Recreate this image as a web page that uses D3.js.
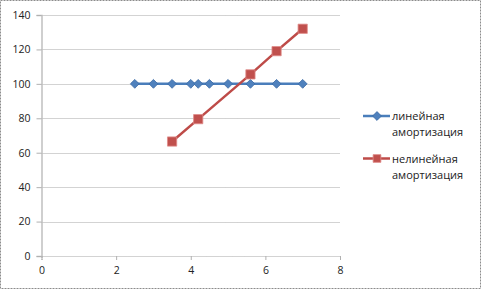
<!DOCTYPE html>
<html>
<head>
<meta charset="utf-8">
<script src="https://cdn.jsdelivr.net/npm/d3@7"></script>
<style>
  body { margin: 0; background: #fff; }
  text { font-family: "Open Sans", "Liberation Sans", sans-serif; fill: #222; }
</style>
</head>
<body>
<div class="chart"></div>
<script>
// values
var linearX = [2.5, 3, 3.5, 4, 4.2, 4.5, 5, 5.6, 6.3, 7];
var linearY = [100, 100, 100, 100, 100, 100, 100, 100, 100, 100];
var nonlinearX = [3.5, 4.2, 5.6, 6.3, 7];
var nonlinearY = [66.5, 79.5, 105.5, 119, 132];
var xTicks = [0, 2, 4, 6, 8];
var yTicks = [0, 20, 40, 60, 80, 100, 120, 140];
var seriesNames = ["линейная амортизация", "нелинейная амортизация"];

var W = 481, H = 289;
var margin = {top: 15, right: 141, bottom: 33, left: 41.5},
    width = W - margin.left - margin.right,
    height = H - margin.top - margin.bottom;

var svg = d3.select(".chart").append("svg")
    .attr("width", W)
    .attr("height", H);

// outer frame
svg.append("rect")
    .attr("x", 0.5).attr("y", 0.5)
    .attr("width", W - 1).attr("height", H - 1)
    .attr("fill", "none")
    .attr("stroke", "#8c8c8c")
    .attr("stroke-dasharray", "2,1");

var g = svg.append("g")
    .attr("transform", "translate(" + margin.left + "," + margin.top + ")");

var x = d3.scaleLinear().domain([0, 8]).range([0, width]);
var y = d3.scaleLinear().domain([0, 140]).range([height, 0]);

// grid lines
g.selectAll(".grid").data(yTicks.slice(1)).enter().append("line")
    .attr("x1", 0).attr("x2", width)
    .attr("y1", function(d) { return Math.round(y(d)) + 0.5; })
    .attr("y2", function(d) { return Math.round(y(d)) + 0.5; })
    .attr("stroke", "#a6a6a6")
    .attr("stroke-dasharray", "1,1");

// y axis
var yAxis = g.append("g")
    .call(d3.axisLeft(y).tickValues(yTicks).tickSize(5).tickPadding(6));
yAxis.select(".domain").attr("stroke", "#c0c0c0").attr("stroke-width", 1.5);
yAxis.selectAll(".tick line").attr("stroke", "#b0b0b0");
yAxis.selectAll("text").style("font-size", "10.5px").attr("fill", "#222");

// x axis
var xAxis = g.append("g")
    .attr("transform", "translate(0," + height + ")")
    .call(d3.axisBottom(x).tickValues(xTicks).tickSize(4).tickPadding(7));
xAxis.select(".domain").attr("stroke", "#a6a6a6").attr("stroke-dasharray", "1,1");
xAxis.selectAll(".tick line").attr("stroke", "#b0b0b0");
xAxis.selectAll("text").style("font-size", "10.5px").attr("fill", "#222");

var line = d3.line()
    .x(function(d) { return x(d[0]); })
    .y(function(d) { return y(d[1]); });

var linear = d3.zip(linearX, linearY);
var nonlinear = d3.zip(nonlinearX, nonlinearY);

var blue = "#4a7ebb", blueFill = "#4f81bd";
var red = "#be4b48", redFill = "#c0504d";

g.append("path").datum(linear)
    .attr("d", line).attr("fill", "none")
    .attr("stroke", blue).attr("stroke-width", 2.5);

g.append("path").datum(nonlinear)
    .attr("d", line).attr("fill", "none")
    .attr("stroke", red).attr("stroke-width", 2.5);

var diamond = d3.symbol().type(d3.symbolDiamond2).size(50);
var square = d3.symbol().type(d3.symbolSquare).size(85);

g.selectAll(".dia").data(linear).enter().append("path")
    .attr("d", diamond)
    .attr("transform", function(d) { return "translate(" + x(d[0]) + "," + y(d[1]) + ")"; })
    .attr("fill", blueFill).attr("stroke", "#3a6aa5").attr("stroke-width", 0.8);

g.selectAll(".sq").data(nonlinear).enter().append("path")
    .attr("d", square)
    .attr("transform", function(d) { return "translate(" + x(d[0]) + "," + y(d[1]) + ")"; })
    .attr("fill", redFill).attr("stroke", "#e08a88").attr("stroke-width", 0.8);

// legend
var legend = svg.append("g").attr("transform", "translate(363,116)");
var items = [
  {name: seriesNames[0], color: blue, fill: blueFill, sym: diamond, stroke: "#3a6aa5"},
  {name: seriesNames[1], color: red, fill: redFill, sym: d3.symbol().type(d3.symbolSquare).size(60), stroke: "#e08a88"}
];
items.forEach(function(it, i) {
  var row = legend.append("g").attr("transform", "translate(0," + (i * 42.5) + ")");
  row.append("line").attr("x1", 0).attr("x2", 27).attr("y1", 0).attr("y2", 0)
      .attr("stroke", it.color).attr("stroke-width", 2.5);
  row.append("path").attr("d", it.sym).attr("transform", "translate(14,0)")
      .attr("fill", it.fill).attr("stroke", it.stroke).attr("stroke-width", 0.8);
  var words = it.name.split(" ");
  var t = row.append("text").attr("x", 29).attr("y", 4).style("font-size", "11px");
  t.append("tspan").attr("x", 29).attr("dy", 0).text(words[0]);
  t.append("tspan").attr("x", 29).attr("dy", 16).text(words[1]);
});
</script>
</body>
</html>
